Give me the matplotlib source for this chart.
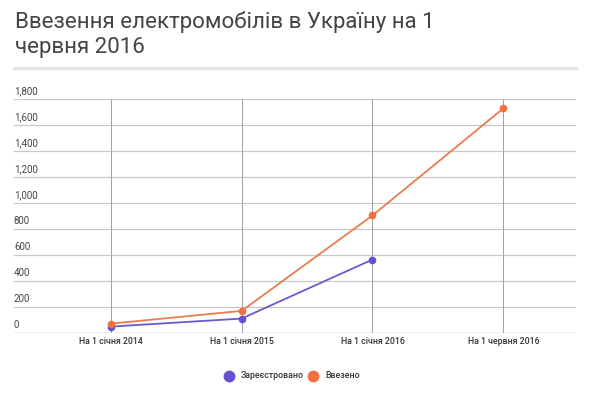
import matplotlib
matplotlib.use('Agg')
import matplotlib.pyplot as plt
from matplotlib.lines import Line2D
import numpy as np

plt.rcParams['font.family'] = ['Roboto', 'DejaVu Sans']

# дані
categories = ['На 1 січня 2014', 'На 1 січня 2015', 'На 1 січня 2016', 'На 1 червня 2016']
registered = [49, 111, 565, np.nan]
imported = [72, 170, 904, 1728]
y_ticks = [0, 200, 400, 600, 800, 1000, 1200, 1400, 1600, 1800]
series_names = ['Зареєстровано', 'Ввезено']
colors = ['#6650d6', '#f0703f']
line_colors = ['#6a5acd', '#e67c50']

W, H = 600, 393
fig = plt.figure(figsize=(W / 100, H / 100), dpi=100)

# заголовок і сіра лінія під ним
fig.text(15 / W, 1 - 11 / H, 'Ввезення електромобілів в Україну на 1\nчервня 2016',
         fontsize=16, color='#444444', va='top', ha='left', linespacing=1.25)
fig.add_artist(Line2D([14 / W, 576 / W], [1 - 68 / H, 1 - 68 / H], transform=fig.transFigure,
                      color='#e3e3e3', linewidth=2.2))

ax = fig.add_axes([14 / W, 1 - 333 / H, 562 / W, 234 / H])
x = np.arange(len(categories))

for gy in y_ticks:
    ax.axhline(gy, color='#c8c8c8', linewidth=0.9, zorder=1)
ax.axhline(0, color='#9a9a9a', linewidth=0.9, zorder=2)
for gx in x:
    ax.axvline(gx, color='#a0a0a0', linewidth=0.7, zorder=1)

ax.plot(x, registered, color=line_colors[0], linewidth=1.3, marker='o', markersize=4.5,
        markerfacecolor=colors[0], markeredgecolor=colors[0], zorder=3)
ax.plot(x, imported, color=line_colors[1], linewidth=1.3, marker='o', markersize=4.5,
        markerfacecolor=colors[1], markeredgecolor=colors[1], zorder=4)

ax.set_xlim(-0.739, 3.555)
ax.set_ylim(0, 1800)
for s in ax.spines.values():
    s.set_visible(False)
ax.set_xticks([])
ax.set_yticks([])

# підписи осі Y над лініями сітки
for gy in y_ticks:
    ax.annotate(f'{gy:,}', xy=(0, gy), xycoords=('axes fraction', 'data'),
                xytext=(0, 3), textcoords='offset pixels', ha='left', va='bottom',
                fontsize=7, color='#444444')

# підписи осі X
for xi, lab in zip(x, categories):
    ax.annotate(lab, xy=(xi, 0), xycoords='data', xytext=(0, -9), textcoords='offset pixels',
                ha='center', va='center', fontsize=6.3, color='#333333', fontweight='medium')

# легенда
legend_y = 1 - 376 / H
fig.add_artist(Line2D([229 / W], [legend_y], marker='o', markersize=7.5, color=colors[0],
                      linestyle='none', transform=fig.transFigure))
fig.text(241 / W, legend_y, series_names[0], fontsize=6.3, color='#333333', va='center',
         ha='left', fontweight='medium')
fig.add_artist(Line2D([313 / W], [legend_y], marker='o', markersize=7.5, color=colors[1],
                      linestyle='none', transform=fig.transFigure))
fig.text(325 / W, legend_y, series_names[1], fontsize=6.3, color='#333333', va='center',
         ha='left', fontweight='medium')

fig.savefig('out.png', dpi=100, facecolor='white')
